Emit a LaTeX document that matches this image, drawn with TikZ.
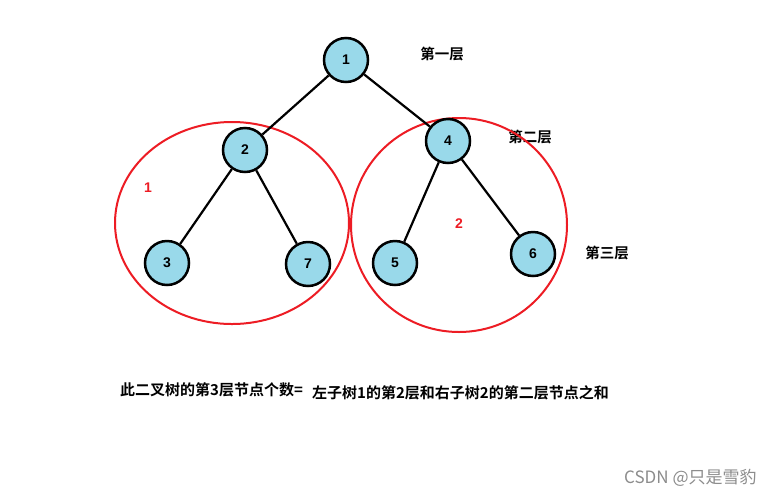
\documentclass[tikz,border=0pt]{standalone}
\usepackage{fontspec}
\newfontfamily\cjk{Noto Sans CJK SC}[BoldFont={Noto Sans CJK SC Bold}]
\setmainfont{Liberation Sans}
\definecolor{nodefill}{RGB}{153,217,234}
\definecolor{pred}{RGB}{237,28,36}
\tikzset{
  tn/.style={circle, draw=black, line width=2.5pt, fill=nodefill, minimum size=44pt, inner sep=0pt, font=\fontsize{14}{14}\selectfont\bfseries},
  edge/.style={draw=black, line width=2.2pt},
  ring/.style={draw=pred, line width=2pt},
  lbl/.style={font=\cjk\bfseries\fontsize{14.5}{14.5}\selectfont, inner sep=0pt},
  bot/.style={font=\cjk\bfseries\fontsize{15}{15}\selectfont, inner sep=0pt, anchor=west},
  rnum/.style={text=pred, font=\fontsize{14}{14}\selectfont\bfseries, inner sep=0pt}
}
\begin{document}
\begin{tikzpicture}[x=1pt,y=-1pt]
\useasboundingbox[fill=white] (0,0) rectangle (775,496);
% labels under rings
\node[lbl] (l1) at (442,54) {第一层};
\node[lbl] (l2) at (530,137) {第二层};
\node[lbl] (l3) at (607,253) {第三层};
% rings
\draw[ring] (232,223) ellipse [x radius=117, y radius=101];
\draw[ring] (459,225) ellipse [x radius=108, y radius=107];
% nodes
\node[tn] (n1) at (346,60) {1};
\node[tn] (n2) at (245,150) {2};
\node[tn] (n4) at (448,141) {4};
\node[tn] (n3) at (167,263) {3};
\node[tn] (n7) at (308,264) {7};
\node[tn] (n5) at (395,263) {5};
\node[tn] (n6) at (533,254) {6};
% edges
\draw[edge] (n1) -- (n2);
\draw[edge] (n1) -- (n4);
\draw[edge] (n2) -- (n3);
\draw[edge] (n2) -- (n7);
\draw[edge] (n4) -- (n5);
\draw[edge] (n4) -- (n6);
% ring numbers
\node[rnum] (r1) at (148,188) {1};
\node[rnum] (r2) at (459,224) {2};
% bottom text
\node[bot] (b1) at (120,390) {此二叉树的第3层节点个数=};
\node[bot] (b2) at (312,393) {左子树1的第2层和右子树2的第二层节点之和};
% watermark
\node[font=\cjk\fontsize{17}{17}\selectfont, text=black!45, anchor=west, inner sep=0pt] (wm) at (624,478) {CSDN @只是雪豹};
\end{tikzpicture}
\end{document}
